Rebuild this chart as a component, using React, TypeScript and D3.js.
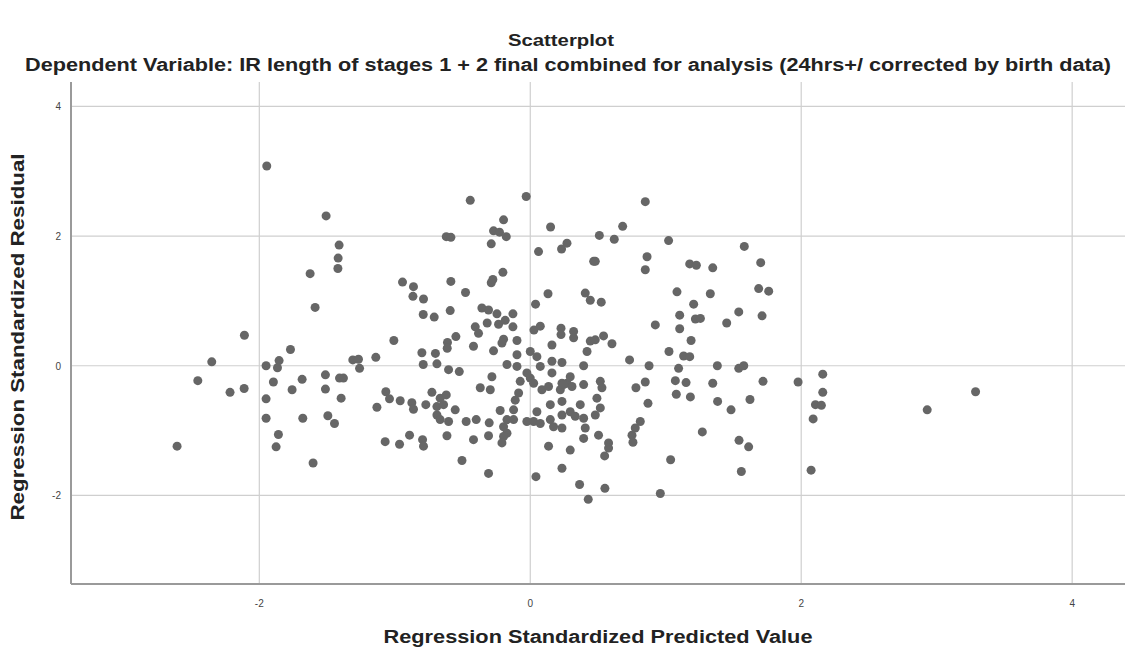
import React from "react";
import * as d3 from "d3";

const predicted: number[] = [
  -1.945, -1.507, -1.411, -1.418, -1.42, -1.625, -1.588, -2.11, -1.77,
  -2.351, -1.95, -1.854, -1.866, -1.31, -1.268, -1.26, -2.454, -1.896, -1.684, -1.512, -1.408, -1.379,
  -2.216, -2.112, -1.95, -1.758, -1.512, -1.396, -1.95, -1.679, -1.494, -1.445, -1.859, -1.876, -2.607, -1.603,
  -0.443, -0.03, -0.197, 0.15, -0.62, -0.586, -0.271, -0.227, -0.177, -0.288, 0.061, 0.231, 0.271,
  -0.202, -0.288, -0.276, -0.943, -0.586, -0.862, -0.866, -0.788, -0.478, 0.131, -0.79, -0.709, -0.591,
  0.039, -0.357, -0.308, -0.246, -0.128, -0.318, -0.234, -0.185, -0.128, -0.406, -0.382, 0.027, 0.074,
  0.227, 0.227, -1.007, -0.549, -0.611, -0.197, -0.209, -0.098, 0.16, -0.419,
  -0.613, -0.271, -0.8, -0.7, -1.14, -0.79, -0.689, -0.603, -0.524, -0.172, -0.098, -0.098, 0, 0.049, 0.074,
  0.16, 0.234, -0.283, -0.369, -0.295, -0.074, 0, 0.025, -0.025, 0.16, 0.086, 0.135, 0.234, 0.222,
  -1.066, -1.039, -0.96, -0.874, -0.862, -1.132, -0.771, -0.726, -0.665, -0.62, -0.689, -0.64, -0.689,
  -0.665, -0.554, -0.603, -0.473, -0.399, -0.303, -0.222, -0.123, -0.111, -0.086, -0.172, -0.123, -0.197,
  -0.172, -0.197, -0.209, -0.025, 0.025, 0.074, 0.049, 0.148, 0.172, 0.234, 0.148, 0.234, 0.234,
  -0.615, -0.419, -0.308, -0.891, -1.071, -0.965, -0.795, -0.788, -0.504, -0.308, 0.042, 0.135, 0.234,
  0.849, 0.682, 0.51, 0.62, 1.021, 1.58, 0.468, 0.48, 0.862, 0.849, 1.177, 1.226, 1.347, 1.701, 1.083,
  1.329, 1.686, 1.76, 0.406, 0.443, 0.524, 1.206, 1.103, 1.219, 1.256, 1.539, 1.711, 0.923, 1.45, 1.103,
  1.187, 0.32, 0.32, 0.443, 0.48, 0.541, 0.603, 1.024,
  0.419, 0.394, 0.733, 0.877, 1.132, 1.177, 1.095, 1.381, 1.539, 1.576, 0.271, 0.295, 0.308, 0.246,
  0.394, 0.517, 0.529, 0.78, 0.849, 1.071, 1.15, 1.347, 1.718, 1.078, 1.182, 0.869, 1.383, 1.622, 1.482,
  0.369, 0.492, 0.517, 0.48, 0.295, 0.332, 0.394, 0.406, 0.394, 0.504, 0.812, 0.775, 0.751, 0.758,
  0.578, 0.578, 0.549, 0.295, 1.27, 1.541, 1.612, 1.036, 1.558, 0.364, 0.551, 0.428, 0.96,
  1.977, 2.159, 2.159, 2.105, 2.149, 2.088, 2.073, 2.93, 3.287,
];

const residual: number[] = [
  3.08, 2.31, 1.86, 1.66, 1.5, 1.42, 0.9, 0.47, 0.25,
  0.06, 0.0, 0.08, -0.03, 0.09, 0.1, -0.04, -0.23, -0.25, -0.21, -0.14, -0.19, -0.19,
  -0.41, -0.35, -0.51, -0.37, -0.36, -0.5, -0.81, -0.81, -0.77, -0.89, -1.06, -1.25, -1.24, -1.5,
  2.55, 2.61, 2.25, 2.14, 1.99, 1.98, 2.08, 2.06, 1.99, 1.88, 1.76, 1.8, 1.89,
  1.44, 1.28, 1.33, 1.29, 1.3, 1.22, 1.07, 1.03, 1.13, 1.11, 0.79, 0.75, 0.85,
  0.95, 0.89, 0.86, 0.8, 0.8, 0.66, 0.64, 0.7, 0.6, 0.6, 0.5, 0.55, 0.61,
  0.58, 0.48, 0.39, 0.45, 0.36, 0.41, 0.35, 0.39, 0.32, 0.3,
  0.27, 0.23, 0.2, 0.19, 0.13, 0.02, 0.03, -0.06, -0.09, 0.02, -0.01, 0.17, 0.22, 0.14, -0.01,
  0.07, 0.05, -0.17, -0.34, -0.37, -0.24, -0.19, -0.27, -0.11, -0.11, -0.37, -0.32, -0.27, -0.37,
  -0.4, -0.51, -0.54, -0.57, -0.67, -0.64, -0.6, -0.41, -0.5, -0.45, -0.63, -0.6, -0.76,
  -0.83, -0.68, -0.86, -0.86, -0.83, -0.88, -0.69, -0.68, -0.53, -0.42, -0.83, -0.83, -0.94,
  -1.04, -1.09, -1.19, -0.86, -0.86, -0.89, -0.71, -0.83, -0.94, -0.96, -0.6, -0.55, -0.76,
  -1.08, -1.14, -1.08, -1.07, -1.17, -1.21, -1.14, -1.24, -1.46, -1.66, -1.71, -1.24, -1.58,
  2.53, 2.15, 2.01, 1.95, 1.93, 1.84, 1.61, 1.61, 1.68, 1.48, 1.57, 1.55, 1.51, 1.59, 1.14,
  1.11, 1.19, 1.15, 1.12, 1.01, 0.98, 0.95, 0.78, 0.72, 0.73, 0.83, 0.77, 0.63, 0.66, 0.57,
  0.39, 0.53, 0.43, 0.38, 0.4, 0.46, 0.34, 0.22,
  0.22, 0.0, 0.09, 0.0, 0.15, 0.14, -0.04, 0.0, -0.04, 0.0, -0.27, -0.17, -0.32, -0.29,
  -0.29, -0.24, -0.34, -0.34, -0.25, -0.23, -0.26, -0.27, -0.24, -0.44, -0.48, -0.58, -0.55, -0.52, -0.68,
  -0.6, -0.5, -0.65, -0.76, -0.71, -0.78, -0.81, -0.96, -1.12, -1.07, -0.86, -0.96, -1.07, -1.18,
  -1.19, -1.27, -1.39, -1.3, -1.02, -1.15, -1.25, -1.45, -1.63, -1.83, -1.89, -2.06, -1.97,
  -0.25, -0.13, -0.41, -0.6, -0.61, -0.82, -1.61, -0.68, -0.4,
];

const xTicks: number[] = [-2, 0, 2, 4];
const yTicks: number[] = [-2, 0, 2, 4];

const titleText = "Scatterplot";
const subtitleText =
  "Dependent Variable: IR length of stages 1 + 2 final combined for analysis (24hrs+/ corrected by birth data)";
const xTitle = "Regression Standardized Predicted Value";
const yTitle = "Regression Standardized Residual";

const W = 1128;
const H = 652;
const plot = { left: 71, right: 1125, top: 82, bottom: 584 };
const FONT = "'Liberation Sans', Arial, Helvetica, sans-serif";

export default function App() {
  const x = d3.scaleLinear().domain([-3.39, 4.39]).range([plot.left, plot.right]);
  const y = d3.scaleLinear().domain([-3.365, 4.375]).range([plot.bottom, plot.top]);
  const pts = predicted.map((p, i) => ({ p, r: residual[i] }));

  return (
    <svg
      width={W}
      height={H}
      style={{ position: "absolute", left: 0, top: 0, background: "#fff" }}
      fontFamily={FONT}
    >
      <rect x={0} y={0} width={W} height={H} fill="#fff" />
      <text
        x={561}
        y={46}
        textAnchor="middle"
        fontSize={17}
        fontWeight="bold"
        fill="#222"
        textLength={106}
        lengthAdjust="spacingAndGlyphs"
      >
        {titleText}
      </text>
      <text
        x={568}
        y={71}
        textAnchor="middle"
        fontSize={18}
        fontWeight="bold"
        fill="#222"
        textLength={1086}
        lengthAdjust="spacingAndGlyphs"
      >
        {subtitleText}
      </text>

      {xTicks.map((t) => (
        <line key={"gx" + t} x1={x(t)} x2={x(t)} y1={plot.top} y2={plot.bottom} stroke="#cfcfcf" strokeWidth={1.2} />
      ))}
      {yTicks.map((t) => (
        <line key={"gy" + t} x1={plot.left} x2={plot.right} y1={y(t)} y2={y(t)} stroke="#cfcfcf" strokeWidth={1.2} />
      ))}

      <line x1={plot.left} x2={plot.left} y1={plot.top} y2={plot.bottom} stroke="#9a9a9a" strokeWidth={2} />
      <line x1={plot.left} x2={plot.right} y1={plot.bottom} y2={plot.bottom} stroke="#9a9a9a" strokeWidth={2} />

      {xTicks.map((t) => (
        <text key={"tx" + t} x={x(t)} y={607} textAnchor="middle" fontSize={10} fill="#444">
          {t}
        </text>
      ))}
      {yTicks.map((t) => (
        <text key={"ty" + t} x={61} y={y(t) + 4} textAnchor="end" fontSize={10} fill="#444">
          {t}
        </text>
      ))}

      {pts.map((d, i) => (
        <circle key={i} cx={x(d.p)} cy={y(d.r)} r={4.5} fill="#666666" />
      ))}

      <text
        x={(plot.left + plot.right) / 2}
        y={643}
        textAnchor="middle"
        fontSize={18}
        fontWeight="bold"
        fill="#222"
        textLength={429}
        lengthAdjust="spacingAndGlyphs"
      >
        {xTitle}
      </text>
      <text
        transform={`translate(24, ${(plot.top + plot.bottom) / 2 + 4}) rotate(-90)`}
        textAnchor="middle"
        fontSize={18}
        fontWeight="bold"
        fill="#222"
        textLength={367}
        lengthAdjust="spacingAndGlyphs"
      >
        {yTitle}
      </text>
    </svg>
  );
}
